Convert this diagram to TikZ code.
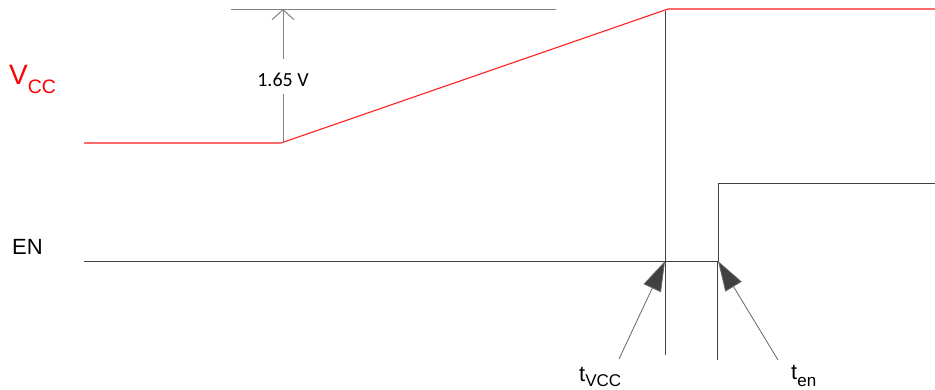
\documentclass[tikz,border=0pt]{standalone}
\usepackage{fontspec}
\setmainfont{Liberation Sans}
\newfontfamily\dimfont{Carlito}
\usetikzlibrary{arrows.meta}
\definecolor{vccred}{HTML}{FF2020}
\definecolor{wire}{HTML}{404040}
\newcommand{\lowsub}[3]{\raisebox{-#2pt}{\fontsize{#1}{#1}\selectfont #3}}

\begin{document}
\begin{tikzpicture}[x=1pt,y=-1pt,
  sigvcc/.style={draw=vccred,line width=1.1pt},
  sigen/.style={draw=wire,line width=1pt},
  guide/.style={draw=wire,line width=1pt},
  dimline/.style={draw=gray,line width=1pt},
  pointer/.style={draw=wire!80,line width=0.8pt,-{Triangle[length=30pt,width=19pt,fill=wire]}},
  siglabel/.style={anchor=base west,inner sep=0pt}]
\useasboundingbox (0,0) rectangle (935,389);
% supply ramp
\coordinate (v0) at (84,143);
\coordinate (v1) at (281,143);
\coordinate (v2) at (668,9);
\coordinate (v3) at (935,9);
\draw[sigvcc] (v0) -- (v1) -- (v2) -- (v3);
% enable
\coordinate (e0) at (84,261);
\coordinate (e1) at (718,261);
\coordinate (e2) at (718,183);
\coordinate (e3) at (935,183);
\draw[sigen] (e0) -- (e1) -- (e2) -- (e3);
% time markers
\coordinate (tvtop) at (665,11);
\coordinate (tvbot) at (665,355);
\coordinate (tetop) at (717,262);
\coordinate (tebot) at (717,360);
\draw[guide] (tvtop) -- (tvbot);
\draw[guide] (tetop) -- (tebot);
% 1.65 V dimension
\coordinate (dl) at (231,9);
\coordinate (dr) at (556,9);
\coordinate (dtop) at (283,9);
\coordinate (dbase) at (283,143);
\coordinate (gaptop) at (283,59);
\coordinate (gapbot) at (283,94);
\draw[dimline] (dl) -- (dr);
\node[inner sep=0pt] (dimlabel) at (283,79.5) {\dimfont\fontsize{20}{20}\selectfont 1.65 V};
\draw[dimline] (dbase) -- (gapbot);
\draw[dimline,-{Straight Barb[length=10pt,width=22pt]}] (gaptop) -- (dtop);
% labels
\node[siglabel,text=red] (vcclabel) at (9,84) {\fontsize{28}{28}\selectfont V\lowsub{19.5}{9}{CC}};
\node[siglabel] (enlabel) at (12,254) {\fontsize{22}{22}\selectfont EN};
\node[siglabel] (tvlabel) at (579,381) {\fontsize{22}{22}\selectfont t\lowsub{17}{5}{VCC}};
\node[siglabel] (telabel) at (791,379) {\fontsize{22}{22}\selectfont t\lowsub{17}{7}{en}};
% pointers
\coordinate (tvtail) at (619,359);
\coordinate (tvtip) at (665,261);
\coordinate (tetail) at (778,360);
\coordinate (tetip) at (718,261);
\draw[pointer] (tvtail) -- (tvtip);
\draw[pointer] (tetail) -- (tetip);
\end{tikzpicture}
\end{document}
